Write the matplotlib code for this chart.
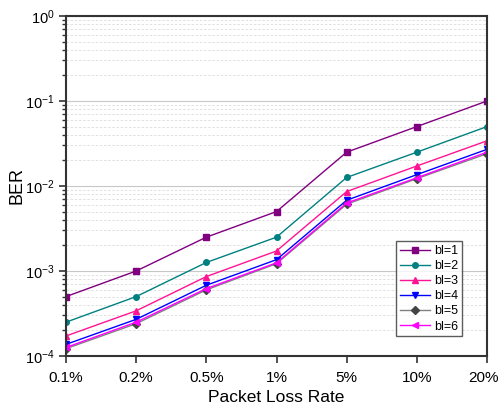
import matplotlib
matplotlib.use("Agg")
import matplotlib.pyplot as plt
import matplotlib.transforms as mtransforms
import numpy as np
from matplotlib.ticker import LogLocator, NullFormatter

plt.rcParams["font.family"] = ["Liberation Sans", "DejaVu Sans"]

loss_rates = ["0.1%", "0.2%", "0.5%", "1%", "5%", "10%", "20%"]
bl1 = [5.0e-4, 1.0e-3, 2.5e-3, 5.0e-3, 2.5e-2, 5.0e-2, 1.0e-1]
bl2 = [2.5e-4, 5.0e-4, 1.26e-3, 2.5e-3, 1.26e-2, 2.5e-2, 5.0e-2]
bl3 = [1.72e-4, 3.4e-4, 8.6e-4, 1.72e-3, 8.6e-3, 1.72e-2, 3.4e-2]
bl4 = [1.37e-4, 2.7e-4, 6.8e-4, 1.36e-3, 6.8e-3, 1.36e-2, 2.7e-2]
bl5 = [1.22e-4, 2.4e-4, 6.0e-4, 1.22e-3, 6.1e-3, 1.22e-2, 2.4e-2]
bl6 = [1.26e-4, 2.5e-4, 6.2e-4, 1.25e-3, 6.3e-3, 1.25e-2, 2.5e-2]

series = [
    ("bl=1", bl1, "#800080", "#800080", "s"),
    ("bl=2", bl2, "#008080", "#008080", "o"),
    ("bl=3", bl3, "#FF1493", "#FF1493", "^"),
    ("bl=4", bl4, "#0000FF", "#0000FF", "v"),
    ("bl=5", bl5, "#808080", "#444444", "D"),
    ("bl=6", bl6, "#FF00FF", "#FF00FF", "<"),
]

fig = plt.figure(figsize=(4.99, 4.07), dpi=100)
ax = fig.add_axes([66 / 499, 51 / 407, 421 / 499, 340 / 407])

x = np.arange(len(loss_rates))
for label, vals, col, mcol, mk in series:
    ax.plot(x, vals, color=col, lw=1.0, marker=mk, markersize=4,
            markerfacecolor=mcol, markeredgecolor=mcol, label=label)

ax.set_yscale("log")
ax.set_ylim(1e-4, 1)
ax.set_xlim(0, len(loss_rates) - 1)
ax.set_xticks(x)
ax.set_xticklabels(loss_rates)
ax.yaxis.set_major_locator(LogLocator(base=10, numticks=10))
ax.yaxis.set_minor_locator(LogLocator(base=10, subs=np.arange(2, 10), numticks=10))
ax.yaxis.set_minor_formatter(NullFormatter())

ax.grid(axis="y", which="major", color="#c8c8c8", lw=0.8)
ax.grid(axis="y", which="minor", color="#dcdcdc", lw=0.6, ls=(0, (3, 2)))
ax.set_axisbelow(True)

for sp in ax.spines.values():
    sp.set_color("#333333")
    sp.set_linewidth(1.5)

ax.tick_params(axis="both", which="major", direction="out", length=5, width=1.2,
               color="#333333")
ax.tick_params(axis="x", labelsize=11, pad=6)
ax.tick_params(axis="y", labelsize=10.5, pad=3)
ax.tick_params(axis="y", which="minor", direction="out", length=3, width=1.0, color="#333333")

# nudge the last x label so it stays inside the canvas
last = ax.get_xticklabels()[-1]
last.set_transform(last.get_transform() + mtransforms.ScaledTranslation(-3 / 100, 0, fig.dpi_scale_trans))

ax.set_xlabel("Packet Loss Rate", fontsize=12.5)
ax.set_ylabel("BER", fontsize=13)
ax.xaxis.set_label_coords(0.5, -0.10)
ax.yaxis.set_label_coords(-0.097, 0.5)

leg = ax.legend(loc="lower right", bbox_to_anchor=(0.94, 0.058), fontsize=9,
                frameon=True, fancybox=False, edgecolor="#333333",
                handlelength=2.4, handletextpad=0.3, borderpad=0.3,
                labelspacing=0.25, borderaxespad=0)
leg.get_frame().set_linewidth(1.0)

fig.savefig("out.png", dpi=100)
